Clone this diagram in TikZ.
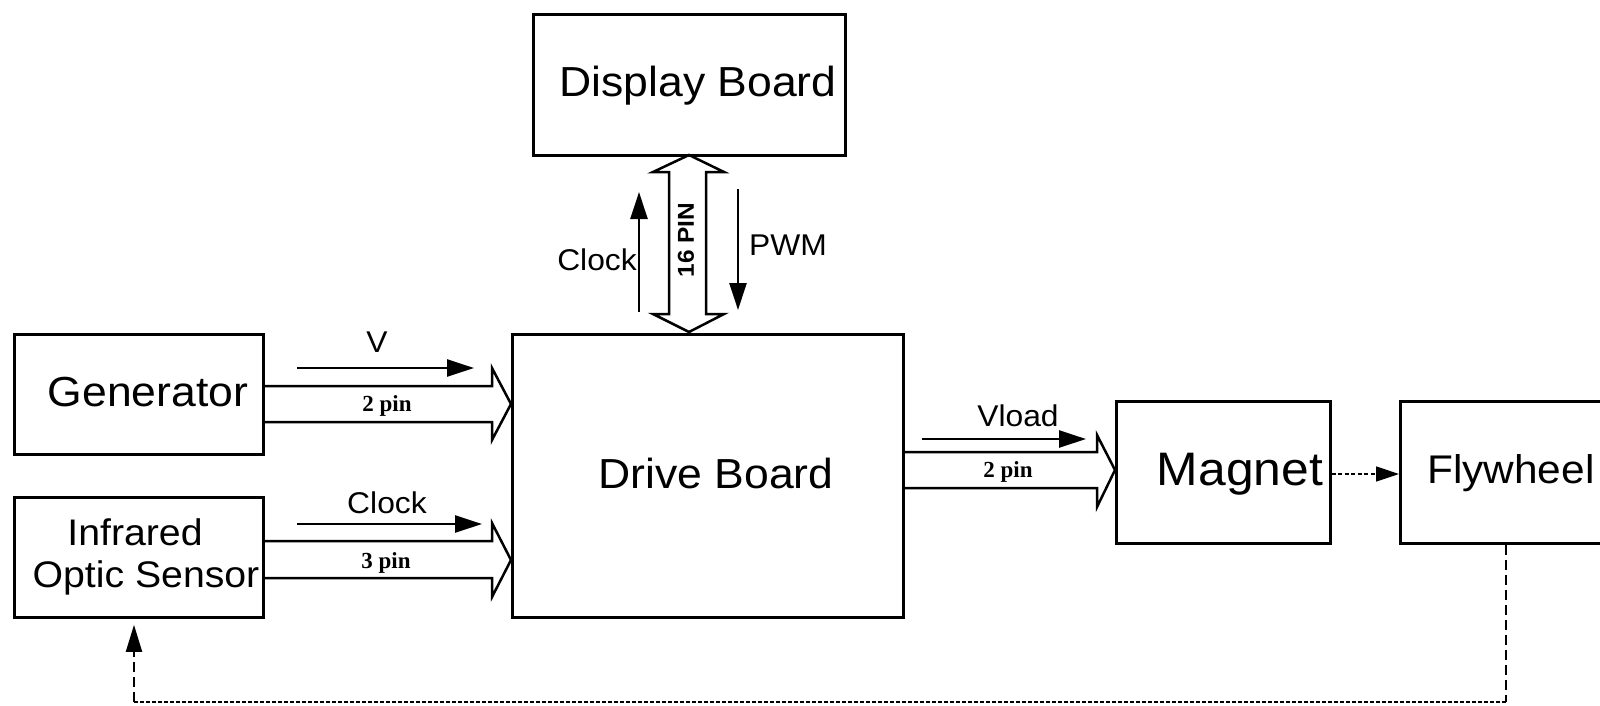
\documentclass[tikz,border=0pt]{standalone}
\usepackage{fontspec}
\setmainfont[FakeStretch=1.06]{Liberation Sans}
\newfontfamily\serifb{Liberation Serif}
\usetikzlibrary{arrows.meta}
\begin{document}
\begin{tikzpicture}[x=1pt,y=-1pt,
  box/.style={draw, line width=2.8pt, rectangle, inner sep=0pt, anchor=north west},
  big/.style={font=\fontsize{42}{46}\selectfont, inner sep=0pt, anchor=base},
  lab/.style={font=\fontsize{30}{34}\selectfont, inner sep=0pt, anchor=base},
  pinlab/.style={font=\serifb\bfseries\fontsize{23}{26}\selectfont, inner sep=0pt, anchor=base},
  sig/.style={line width=2.5pt, -{Triangle[length=27pt,width=17pt]}},
  hollow/.style={draw, line width=2.5pt, line join=miter},
  fbv/.style={line width=2pt, dash pattern=on 10pt off 5pt},
  fbh/.style={line width=2pt, dash pattern=on 4pt off 2pt},
]
\clip (0,0) rectangle (1600,705);
\fill[white] (0,0) rectangle (1600,705);

% boxes
\node[box, minimum width=312pt, minimum height=141pt] (disp) at (532,13) {};
\node[box, minimum width=391pt, minimum height=283pt] (drive) at (511,333) {};
\node[box, minimum width=249pt, minimum height=120pt] (gen) at (13,333) {};
\node[box, minimum width=249pt, minimum height=120pt] (ir) at (13,496) {};
\node[box, minimum width=214pt, minimum height=142pt] (mag) at (1115,400) {};
\node[box, minimum width=260pt, minimum height=142pt] (fly) at (1399,400) {};

% box texts
\node[big] (disptxt) at (698,96) {Display Board};
\node[big] (drivetxt) at (716,488) {Drive Board};
\node[big] (gentxt) at (148,406) {Generator};
\node[big, font=\fontsize{37}{40}\selectfont] (irtxt1) at (135,545) {Infrared};
\node[big, font=\fontsize{37}{40}\selectfont] (irtxt2) at (146,587) {Optic Sensor};
\node[big, font=\fontsize{47}{50}\selectfont] (magtxt) at (1240,485) {Magnet};
\node[big, anchor=base west, font=\fontsize{40}{44}\selectfont] (flytxt) at (1427,483) {Flywheel};

% 16 PIN double hollow arrow
\draw[hollow] (689,155) -- (724,172) -- (706,172) -- (706,314) -- (724,314)
  -- (689,332) -- (653,314) -- (669,314) -- (669,172) -- (653,172) -- cycle;
\node[font=\bfseries\fontsize{23}{26}\selectfont, inner sep=0pt, rotate=90] (pin16) at (686,240) {16 PIN};

% clock up / pwm down
\coordinate (ck1) at (639,312); \coordinate (ck2) at (639,192);
\draw[sig] (ck1) -- (ck2);
\node[lab] (cktxt) at (597,270) {Clock};
\coordinate (pw1) at (738,189); \coordinate (pw2) at (738,310);
\draw[sig] (pw1) -- (pw2);
\node[lab] (pwtxt) at (788,255) {PWM};

% generator -> drive
\draw[hollow] (gen.east |- 0,386) -- (492,386) -- (492,368) -- (drive.west |- 0,404)
  -- (492,440) -- (492,422) -- (gen.east |- 0,422);
\coordinate (v1) at (297,368); \coordinate (v2) at (474,368);
\draw[sig] (v1) -- (v2);
\node[lab] (vtxt) at (377,352) {V};
\node[pinlab] (pin2a) at (387,411) {2 pin};

% infrared -> drive
\draw[hollow] (ir.east |- 0,541) -- (492,541) -- (492,523) -- (drive.west |- 0,560)
  -- (492,597) -- (492,578) -- (ir.east |- 0,578);
\coordinate (c1) at (297,524); \coordinate (c2) at (482,524);
\draw[sig] (c1) -- (c2);
\node[lab] (c2txt) at (387,513) {Clock};
\node[pinlab] (pin3) at (386,568) {3 pin};

% drive -> magnet
\draw[hollow] (drive.east |- 0,452) -- (1097,452) -- (1097,435) -- (mag.west |- 0,470)
  -- (1097,507) -- (1097,488) -- (drive.east |- 0,488);
\coordinate (vl1) at (922,439); \coordinate (vl2) at (1086,439);
\draw[sig] (vl1) -- (vl2);
\node[lab] (vltxt) at (1018,426) {Vload};
\node[pinlab] (pin2b) at (1008,477) {2 pin};

% magnet -> flywheel dotted
\draw[line width=1.6pt, dash pattern=on 4pt off 2.5pt, -{Triangle[length=23pt,width=15pt]}]
  (mag.east |- 0,474) -- (fly.west |- 0,474);

% feedback
\coordinate (f1) at (1506,702);
\coordinate (f2) at (134,702);
\draw[fbv] (fly.south -| 1506,0) -- (f1);
\draw[fbh] (f1) -- (f2);
\draw[fbv, -{Triangle[length=27pt,width=16pt]}, shorten >=6pt] (f2) -- (ir.south -| 134,0);
\end{tikzpicture}
\end{document}
